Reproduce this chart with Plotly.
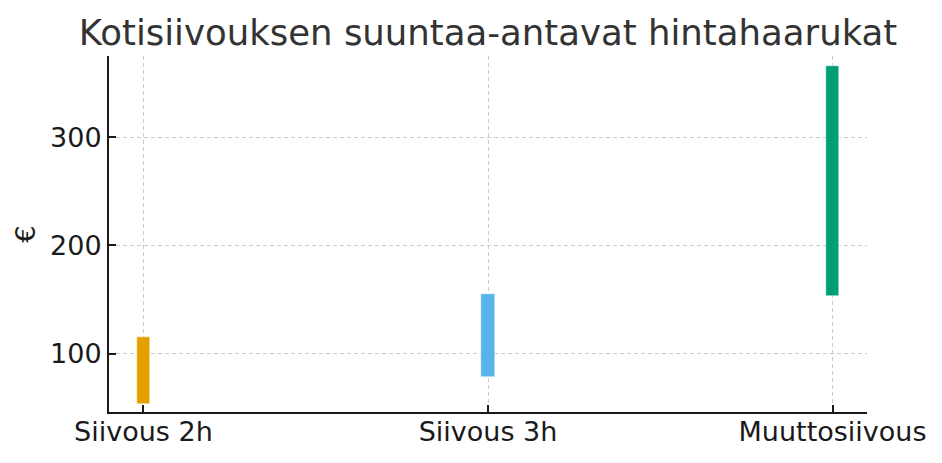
import plotly.graph_objects as go

# price ranges (EUR) per cleaning type
categories = ["Siivous 2h", "Siivous 3h", "Muuttosiivous"]
low_prices = [53, 78, 153]
high_prices = [115, 155, 366]
colors = ["#E69F00", "#56B4E9", "#009E73"]

title = "Kotisiivouksen suuntaa-antavat hintahaarukat"

fig = go.Figure()
fig.add_trace(go.Bar(
    x=list(range(len(categories))),
    y=[h - l for l, h in zip(low_prices, high_prices)],
    base=low_prices,
    width=0.04,
    marker=dict(color=colors, line=dict(color="white", width=0.5)),
    showlegend=False,
))

# page has ~8px body offset, margins compensate
fig.update_layout(
    width=942, height=463,
    margin=dict(l=101, r=83, t=48, b=59),
    paper_bgcolor="white", plot_bgcolor="white",
    font=dict(family="DejaVu Sans", color="#1a1a1a"),
    title=dict(text=title, x=0.5, xref="paper", xanchor="center",
               y=0.946, yanchor="middle",
               font=dict(size=35.5, color="#333333")),
    bargap=0,
)
axis_style = dict(
    tickfont=dict(size=27),
    showline=True, linecolor="#1a1a1a", linewidth=2,
    ticks="inside", ticklen=7, tickwidth=2, tickcolor="#1a1a1a",
    showgrid=True, gridcolor="#cccccc", griddash="4px,3px", gridwidth=1,
    zeroline=False, automargin=False,
)
fig.update_xaxes(
    range=[-0.1, 2.1],
    tickvals=list(range(len(categories))), ticktext=categories,
    ticklabelstandoff=-5,
    **axis_style,
)
fig.update_yaxes(
    range=[46, 375],
    tickvals=[100, 200, 300],
    **axis_style,
)

# y label
fig.add_annotation(
    text="€", textangle=-90, showarrow=False,
    xref="paper", yref="paper", x=-0.111, y=0.5,
    xanchor="center", yanchor="middle",
    font=dict(size=27, color="#1a1a1a"),
)

fig.write_html("out.html")
